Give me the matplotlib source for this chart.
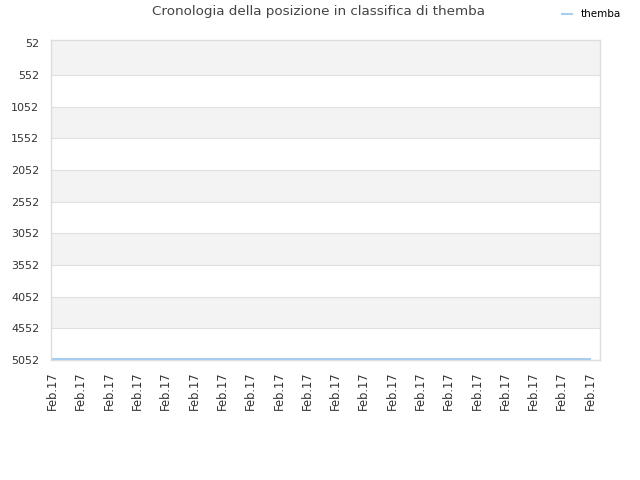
import numpy as np
import matplotlib
matplotlib.use("Agg")
import matplotlib.pyplot as plt

# data
dates = ["Feb.17"] * 20
rank = [5030] * 20
ytick_vals = [52, 552, 1052, 1552, 2052, 2552, 3052, 3552, 4052, 4552, 5052]

fig = plt.figure(figsize=(6.4, 4.8), dpi=100)
ax = fig.add_axes([0.079, 0.25, 0.859, 0.667])

x = np.arange(len(dates))
ax.set_xlim(-0.07, 19.36)
ax.set_ylim(5052, 0)

# alternating horizontal bands
edges = [0] + ytick_vals[1:]
for i in range(len(edges) - 1):
    if i % 2 == 0:
        ax.axhspan(edges[i], edges[i + 1], color="#f3f3f3", zorder=0, lw=0)
for v in ytick_vals[1:]:
    ax.axhline(v, color="#e0e0e0", lw=0.8, zorder=1)

ax.plot(x, rank, color="#a8cdee", lw=1.5, label="themba", zorder=3)

ax.set_yticks(ytick_vals)
ax.set_yticklabels([str(v) for v in ytick_vals], fontsize=8, color="#333333")
ax.set_xticks(x)
ax.set_xticklabels(dates, rotation=90, fontsize=8.3, color="#333333")
ax.tick_params(axis="y", length=0, pad=8)
ax.tick_params(axis="x", length=0, pad=8)

for s in ax.spines.values():
    s.set_color("#dddddd")
    s.set_linewidth(1)

fig.text(0.497, 0.975, "Cronologia della posizione in classifica di themba",
         ha="center", va="center", fontsize=9.7, color="#444444")
fig.legend(loc="upper right", bbox_to_anchor=(0.985, 1.0), frameon=False,
           fontsize=7.5, handlelength=1.0, handletextpad=0.8)

fig.savefig("out.png")
